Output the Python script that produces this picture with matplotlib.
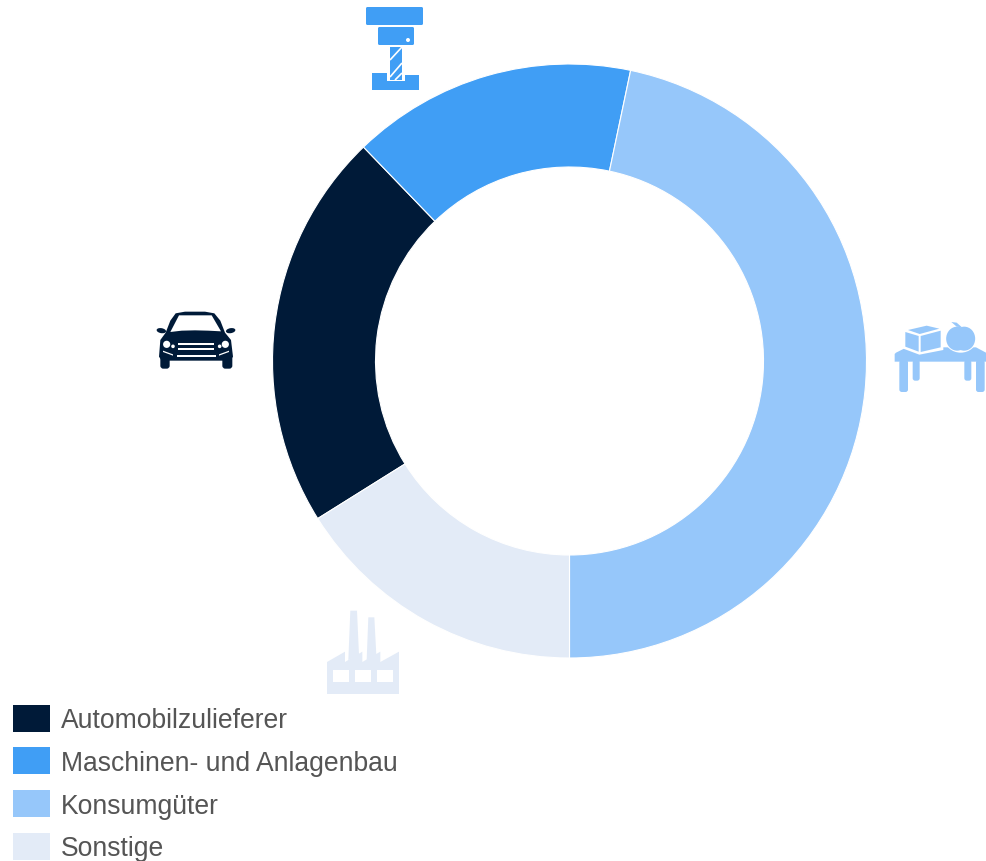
"""Donut chart of customer industries with hand-drawn icons."""

import matplotlib

matplotlib.use("Agg")

import matplotlib.pyplot as plt
from matplotlib.patches import Circle, Ellipse, FancyBboxPatch, Polygon, Rectangle

W, H = 986, 861

categories = ["Automobilzulieferer", "Maschinen- und Anlagenbau", "Konsumgüter", "Sonstige"]
shares = [21.7, 15.5, 46.7, 16.1]
colors = ["#001A38", "#409EF5", "#96C7FA", "#E3EBF7"]

plt.rcParams["font.family"] = ["Liberation Sans", "DejaVu Sans"]

fig = plt.figure(figsize=(W / 100, H / 100), dpi=100, facecolor="white")

# pixel overlay for the icons and the legend
px = fig.add_axes([0, 0, 1, 1])
px.set_xlim(0, W)
px.set_ylim(H, 0)
px.axis("off")

cx, cy, r_out, r_in = 569.5, 361, 297, 194
pie_ax = fig.add_axes([(cx - r_out) / W, 1 - (cy + r_out) / H, 2 * r_out / W, 2 * r_out / H])
# Konsumgüter ends at six o'clock, Sonstige follows, then the list wraps round
pie_ax.pie(
    shares,
    colors=colors,
    radius=1,
    startangle=-90 - 360 * shares[3] / sum(shares),
    counterclock=False,
    wedgeprops={"width": 1 - r_in / r_out, "edgecolor": "white", "linewidth": 0.8},
)
pie_ax.set_xlim(-1, 1)
pie_ax.set_ylim(-1, 1)


def zoomed(points, ox, oy):
    return [(ox + x / 3, oy + y / 3) for x, y in points]


def poly(points, ox, oy, color):
    px.add_patch(Polygon(zoomed(points, ox, oy), closed=True, fc=color, ec="none"))


def rbox(x0, y0, x1, y1, color, rad=1.5):
    px.add_patch(
        FancyBboxPatch(
            (x0 + rad, y0 + rad),
            x1 - x0 - 2 * rad,
            y1 - y0 - 2 * rad,
            boxstyle=f"round,pad={rad},rounding_size={rad}",
            fc=color,
            ec="none",
        )
    )


# milling machine
c = colors[1]
rbox(366, 7, 423, 25, c)
rbox(378, 27, 414, 45, c)
px.add_patch(Circle((408, 40), 2, fc="white", ec="none"))
poly([(67, 218), (110, 218), (110, 243), (165, 243), (165, 226), (208, 226), (208, 270), (67, 270)], 350, 0, c)
px.add_patch(Rectangle((390, 47), 12, 33, fc=c, ec="none"))
for x0, y0, x1, y1 in [(390, 60, 402, 47), (390, 77, 402, 63), (395, 80, 402, 73)]:
    px.plot([x0, x1], [y0, y1], color="white", lw=1.2, solid_capstyle="butt")

# car
c = colors[0]
poly(
    [(62, 98), (76, 62), (92, 40), (120, 35), (180, 35), (208, 40), (226, 62), (240, 98),
     (258, 120), (264, 170), (256, 182), (50, 182), (42, 170), (46, 120)],
    145, 300, c,
)
rbox(145 + 46 / 3, 300 + 165 / 3, 145 + 74 / 3, 300 + 206 / 3, c, rad=3)
rbox(145 + 232 / 3, 300 + 165 / 3, 145 + 262 / 3, 300 + 206 / 3, c, rad=3)
px.add_patch(Ellipse((145 + 49 / 3, 300 + 92 / 3), 9.5, 5, angle=10, fc=c, ec="none"))
px.add_patch(Ellipse((145 + 257 / 3, 300 + 92 / 3), 9.5, 5, angle=-10, fc=c, ec="none"))
poly([(76, 96), (102, 46), (200, 46), (228, 94), (190, 92), (150, 91), (110, 92)], 145, 300, "white")
for x, y, rad in [(65, 133, 3.6), (84, 139, 1.8), (241, 133, 3.6), (224, 139, 1.8)]:
    px.add_patch(Circle((145 + x / 3, 300 + y / 3), rad, fc="white", ec="none"))
poly([(100, 130), (206, 130), (206, 136), (100, 136)], 145, 300, "white")
poly([(100, 143), (206, 143), (206, 149), (100, 149)], 145, 300, "white")
poly([(95, 165), (212, 165), (212, 171), (95, 171)], 145, 300, "white")
poly([(54, 152), (84, 163), (84, 167), (54, 156)], 145, 300, "white")
poly([(252, 152), (222, 163), (222, 167), (252, 156)], 145, 300, "white")

# table with box and apple
c = colors[2]
poly([(30, 128), (62, 112), (270, 112), (300, 128), (300, 155), (26, 155), (26, 132)], 886, 310, c)
for x0, x1, y1 in [(40, 66, 246), (270, 296, 246), (80, 101, 212), (235, 256, 212)]:
    rbox(886 + x0 / 3, 310 + 150 / 3, 886 + x1 / 3, 310 + y1 / 3, c, rad=2.5)
poly([(52, 56), (122, 42), (172, 54), (172, 120), (100, 134), (52, 116)], 886, 310, "white")
poly([(58, 66), (98, 78), (98, 125), (58, 110)], 886, 310, c)
poly([(104, 78), (164, 62), (164, 112), (104, 126)], 886, 310, c)
poly([(66, 60), (122, 47), (160, 56), (101, 72)], 886, 310, c)
ax_, ay_ = 886 + 224 / 3, 310 + 86 / 3
px.add_patch(Ellipse((ax_, ay_), 32, 28, fc="white", ec="none"))
px.add_patch(Ellipse((ax_ - 3.5, ay_), 22, 24, fc=c, ec="none"))
px.add_patch(Ellipse((ax_ + 3.5, ay_), 22, 24, fc=c, ec="none"))
poly([(196, 36), (212, 38), (228, 52), (212, 50)], 886, 310, c)

# factory
c = colors[3]
poly([(106, 32), (126, 32), (132, 165), (100, 180)], 315, 600, c)
poly([(160, 52), (178, 52), (184, 165), (155, 180)], 315, 600, c)
poly(
    [(36, 282), (36, 186), (90, 155), (90, 186), (142, 155), (142, 186),
     (196, 155), (196, 186), (252, 155), (252, 282)],
    315, 600, c,
)
for x0, x1 in [(54, 103), (120, 168), (186, 234)]:
    poly([(x0, 210), (x1, 210), (x1, 246), (x0, 246)], 315, 600, "white")

# legend
legend_y = [718, 760.5, 803.5, 846]
for name, color, y in zip(categories, colors, legend_y):
    px.add_patch(Rectangle((13, y - 13.5), 37, 27, fc=color, ec="none"))
    px.text(61, y + 3.5, name, fontsize=19.1, color="#555555", va="center", ha="left")

fig.savefig("out.png", dpi=100, facecolor="white")
